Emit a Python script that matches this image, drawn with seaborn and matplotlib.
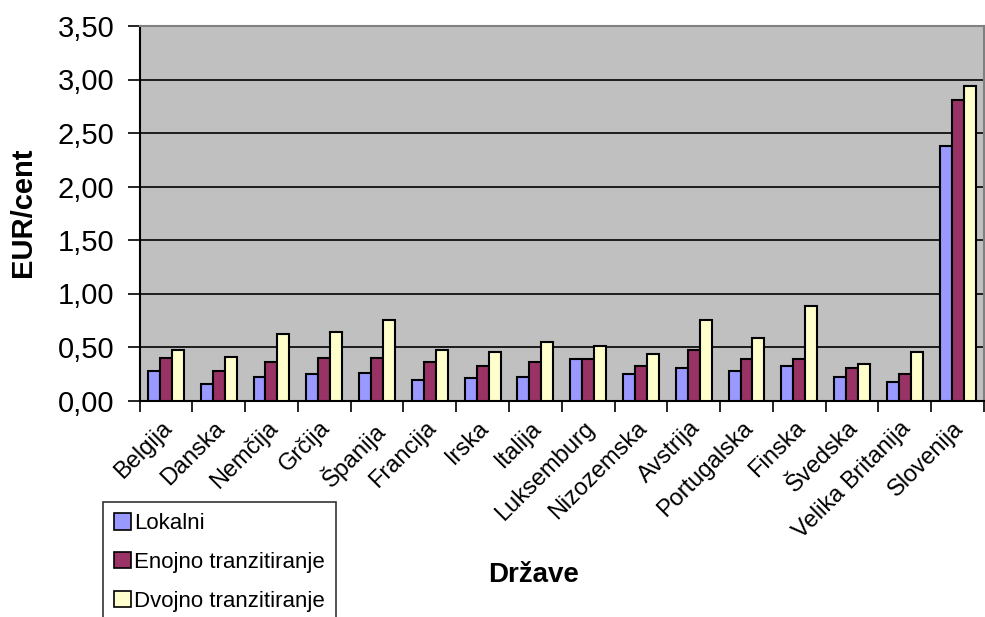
import matplotlib
matplotlib.use("Agg")
import matplotlib.pyplot as plt
import matplotlib.transforms as mtransforms
import seaborn as sns
import pandas as pd
from matplotlib.patches import Patch
from matplotlib.ticker import FuncFormatter, MultipleLocator

countries = ["Belgija", "Danska", "Nemčija", "Grčija", "Španija", "Francija", "Irska",
             "Italija", "Luksemburg", "Nizozemska", "Avstrija", "Portugalska", "Finska",
             "Švedska", "Velika Britanija", "Slovenija"]
series = ["Lokalni", "Enojno tranzitiranje", "Dvojno tranzitiranje"]
lokalni = [0.28, 0.15, 0.22, 0.25, 0.26, 0.19, 0.21, 0.22, 0.39, 0.25, 0.30, 0.28, 0.32, 0.22, 0.17, 2.38]
enojno = [0.40, 0.28, 0.36, 0.40, 0.40, 0.36, 0.32, 0.36, 0.39, 0.32, 0.47, 0.39, 0.39, 0.30, 0.25, 2.81]
dvojno = [0.47, 0.41, 0.62, 0.64, 0.75, 0.47, 0.45, 0.545, 0.51, 0.43, 0.75, 0.58, 0.88, 0.34, 0.45, 2.94]
colors = ["#9999FF", "#993366", "#FFFFCC"]

rows = []
for name, vals in zip(series, [lokalni, enojno, dvojno]):
    for c, v in zip(countries, vals):
        rows.append({"Država": c, "Serija": name, "Vrednost": v})
df = pd.DataFrame(rows)

sns.set_theme(style="white")
plt.rcParams["font.family"] = ["Liberation Sans", "DejaVu Sans"]
plt.rcParams["text.color"] = "black"
plt.rcParams["xtick.color"] = "black"
plt.rcParams["ytick.color"] = "black"
plt.rcParams["axes.labelcolor"] = "black"

fig = plt.figure(figsize=(9.85, 6.17), dpi=100)
ax = fig.add_axes([139.5 / 985, 1 - 400.5 / 617, (984 - 139.5) / 985, (400.5 - 26) / 617])
ax.set_facecolor("#C0C0C0")

sns.barplot(data=df, x="Država", y="Vrednost", hue="Serija", hue_order=series,
            order=countries, palette=colors, width=0.68, gap=0, saturation=1,
            edgecolor="black", linewidth=1.5, ax=ax, legend=False, errorbar=None, zorder=3)

ax.set_ylim(0, 3.5)
ax.set_xlim(-0.5, len(countries) - 0.5)
ax.yaxis.set_major_locator(MultipleLocator(0.5))
ax.yaxis.set_major_formatter(FuncFormatter(lambda v, p: f"{v:.2f}".replace(".", ",")))
ax.grid(axis="y", color="black", linewidth=1.2, zorder=1)
ax.set_axisbelow(True)

for s in ["top", "right"]:
    ax.spines[s].set_color("#808080")
    ax.spines[s].set_linewidth(1.5)
for s in ["left", "bottom"]:
    ax.spines[s].set_color("black")
    ax.spines[s].set_linewidth(1.5)

# category ticks between groups (Excel style)
ax.set_xticks([i - 0.5 for i in range(len(countries) + 1)], minor=False)
ax.set_xticklabels([])
ax.set_xticks(range(len(countries)), minor=True)
ax.set_xticklabels(countries, minor=True, rotation=45, ha="right", va="top",
                   rotation_mode="anchor", fontsize=17, color="black")
ax.tick_params(axis="x", which="minor", length=0, pad=12)
ax.tick_params(axis="x", which="major", length=8, width=1.2, color="black", direction="out")
ax.tick_params(axis="y", length=9, width=1.2, color="black", direction="out",
               labelsize=21, pad=9, labelcolor="black")
ax.tick_params(bottom=True, left=True, which="both")
ax.tick_params(axis="x", which="minor", bottom=False)

shift = mtransforms.ScaledTranslation(-5 / 100, 0, fig.dpi_scale_trans)
for lab in ax.get_xticklabels(minor=True):
    lab.set_transform(lab.get_transform() + shift)

ax.set_xlabel("")
ax.set_ylabel("")
fig.text(23 / 985, 1 - 212 / 617, "EUR/cent", rotation=90, fontsize=21, fontweight="bold",
         ha="center", va="center", color="black")
fig.text(534 / 985, 1 - 575 / 617, "Države", fontsize=20, fontweight="bold",
         ha="center", va="center", color="black")

handles = [Patch(facecolor=c, edgecolor="black", linewidth=1.2) for c in colors]
leg = fig.legend(handles, series, loc="upper left", bbox_to_anchor=(103 / 985, 1 - 502 / 617),
                 fontsize=16, frameon=True, fancybox=False, edgecolor="black",
                 handlelength=0.75, handleheight=0.75, handletextpad=0.15,
                 labelspacing=0.8, borderpad=0.5, borderaxespad=0)
leg.get_frame().set_linewidth(1.2)
for t in leg.get_texts():
    t.set_color("black")

fig.savefig("out.png", dpi=100, facecolor="white")
